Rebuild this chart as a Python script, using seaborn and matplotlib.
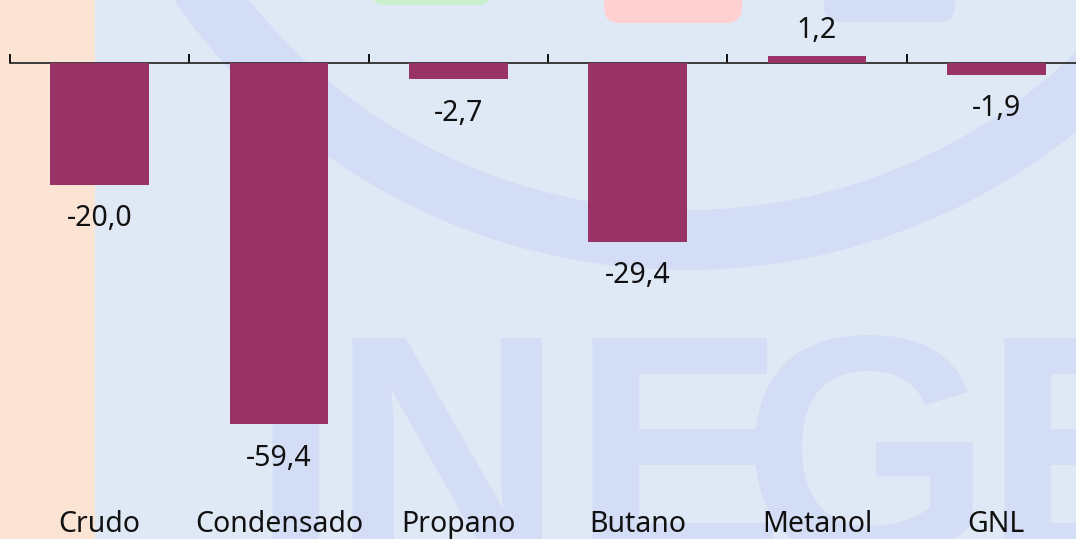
import matplotlib
matplotlib.use('Agg')
import matplotlib.pyplot as plt
import seaborn as sns
import pandas as pd
from matplotlib.patches import Rectangle, Wedge, FancyBboxPatch

# ---- data ----
categories = ['Crudo', 'Condensado', 'Propano', 'Butano', 'Metanol', 'GNL']
values = [-20.0, -59.4, -2.7, -29.4, 1.2, -1.9]
value_labels = ['-20,0', '-59,4', '-2,7', '-29,4', '1,2', '-1,9']

sns.set_theme(style='white')
plt.rcParams['font.family'] = ['Noto Sans', 'DejaVu Sans']

W, H = 1076, 539
fig = plt.figure(figsize=(W / 100, H / 100), dpi=100)
fig.patch.set_facecolor('#dee9f5')

BG_MARK = '#d4ddf6'

def inch(x_px, y_px_top):
    return (x_px / 100, (H - y_px_top) / 100)

# decorative background
fig.patches.append(Rectangle((0, 0), 95 / W, 1, transform=fig.transFigure,
                             facecolor='#fce4d5', edgecolor='none', zorder=-6))
fig.patches.append(Wedge(inch(686, -350), 6.2, 0, 360, width=0.6,
                         transform=fig.dpi_scale_trans, facecolor=BG_MARK,
                         edgecolor='none', zorder=-5))
for (x0, x1, y1, col) in [(370, 493, 5, '#c9f0cc'), (604, 742, 23, '#ffd0d0'),
                          (824, 955, 22, BG_MARK)]:
    fig.patches.append(FancyBboxPatch(inch(x0, y1), (x1 - x0) / 100, 0.6,
                                      boxstyle='round,pad=0,rounding_size=0.16',
                                      transform=fig.dpi_scale_trans,
                                      facecolor=col, edgecolor='none', zorder=-5))
for ch, x in [('I', 250), ('N', 331), ('E', 570), ('G', 742), ('E', 983)]:
    fig.text(x / W, 1 - 326 / H, ch, ha='left', va='top', fontsize=232,
             fontweight='bold', family='Liberation Sans', color=BG_MARK, zorder=-4)

# ---- chart ----
ax = fig.add_axes([10 / W, 1 - 500 / H, 1076 / W, 500 / H])
ax.set_facecolor('none')
df = pd.DataFrame({'cat': categories, 'val': values})
sns.barplot(data=df, x='cat', y='val', color='#993366', saturation=1,
            width=0.55, edgecolor='none', linewidth=0, ax=ax)

ppu = 6.08
ymax = 63 / ppu
ymin = -(500 - 63) / ppu
ax.set_ylim(ymin, ymax)
ax.set_xlim(-0.5, len(categories) - 0.5)

for s in ax.spines.values():
    s.set_visible(False)
ax.set_yticks([])
ax.set_xlabel('')
ax.set_ylabel('')
ax.tick_params(axis='x', length=0, pad=7.5, labelsize=20.5, labelcolor='#111111')

zero_frac = (0 - ymin) / (ymax - ymin)
sec = ax.secondary_xaxis(zero_frac)
sec.set_xticks([i - 0.5 for i in range(len(categories) + 1)],
               labels=[''] * (len(categories) + 1))
sec.spines['bottom'].set_color('black')
sec.spines['bottom'].set_linewidth(1.5)
sec.tick_params(axis='x', direction='out', length=6.5, width=1.3, color='black')

for patch, lab, v in zip(ax.containers[0], value_labels, values):
    xc = patch.get_x() + patch.get_width() / 2
    off = -30 if v < 0 else 12.5
    ax.annotate(lab, (xc, v), xytext=(0, off), textcoords='offset points',
                ha='center', va='baseline', fontsize=20.5, color='#111111')

fig.savefig('out.png', dpi=100, facecolor=fig.get_facecolor())
